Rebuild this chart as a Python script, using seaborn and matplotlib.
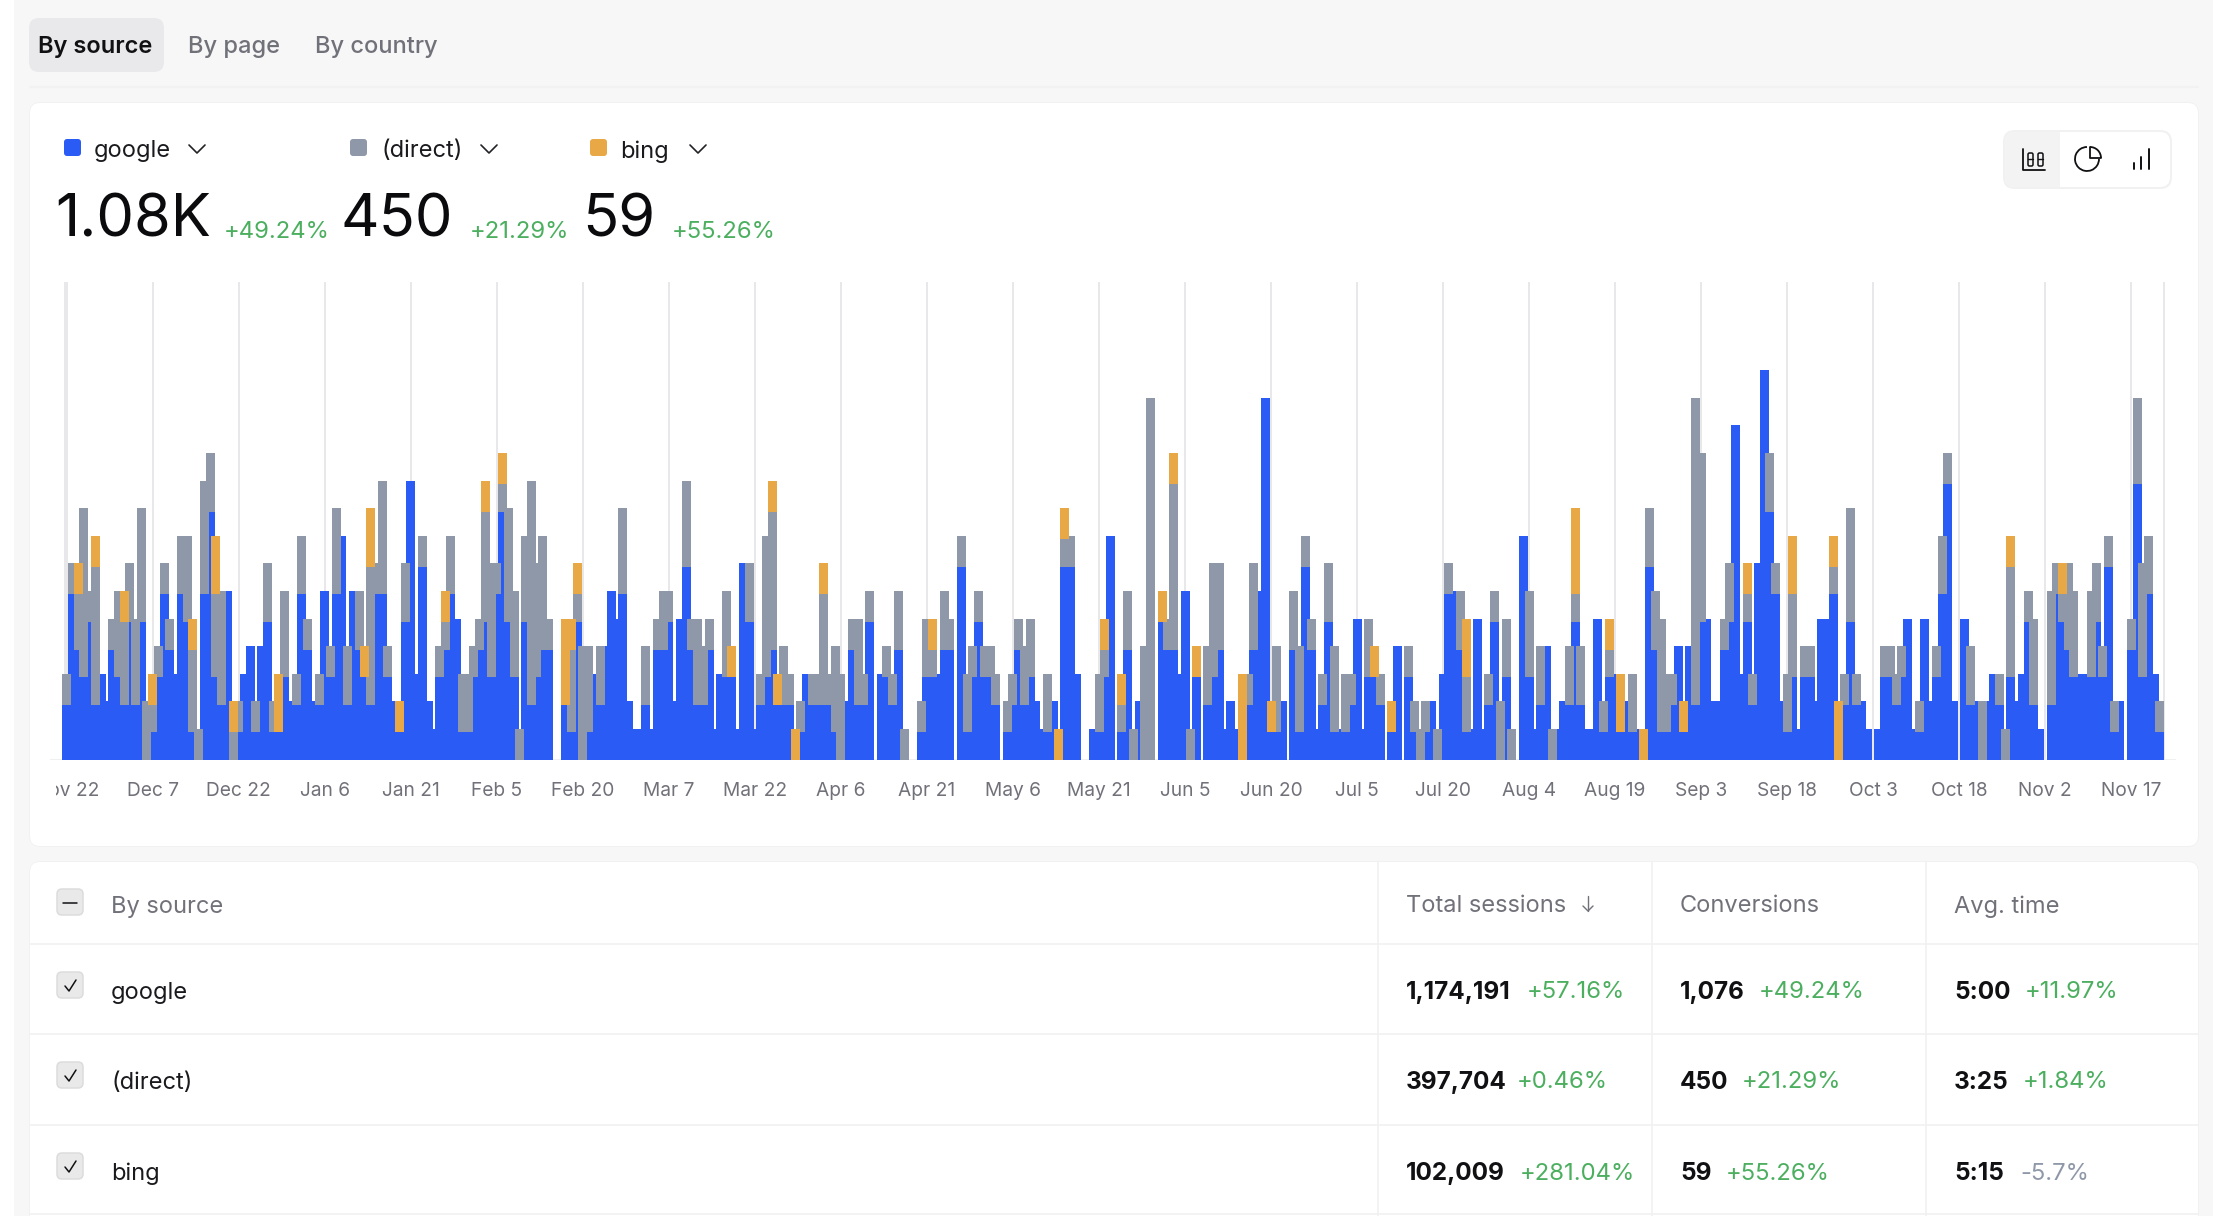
import numpy as np
import pandas as pd
import seaborn as sns
import matplotlib
matplotlib.use("Agg")
import matplotlib.pyplot as plt
from matplotlib.patches import FancyBboxPatch, Rectangle, Arc

google = [2,6,4,3,5,2,3,2,4,3, 2,5,2,5,0,1,3,6,4,3, 6,5,1,0,6,9,3,2,6,0, 1,3,4,1,4,5,1,1,3,2,
          2,6,4,2,2,6,3,6,8,2, 6,4,3,2,6,6,3,2,1,5, 10,3,7,2,1,3,4,6,5,1, 1,3,4,5,3,6,9,5,3,0,
          5,2,3,4,4,0,0,2,1,5, 0,1,3,2,4,6,5,6,2,1, 1,2,1,4,4,5,2,5,7,4, 2,2,4,1,3,3,3,1,7,5,
          1,2,3,4,2,2,2,0,1,3, 2,2,2,2,1,0,2,4,2,2, 5,0,3,3,2,4,0,0,0,1, 3,3,3,4,4,0,7,1,3,5,
          3,3,2,0,1,2,4,2,3,2, 1,1,2,0,7,7,3,0,0,1, 1,3,8,0,1,4,0,2,0,0, 0,5,4,4,3,6,0,3,0,2,
          3,4,1,2,1,0,2,4,6,13, 1,1,2,0,4,1,7,4,1,2, 5,1,1,1,2,5,1,3,3,2, 0,1,4,0,3,1,0,1,2,0,
          3,6,6,4,1,1,5,1,2,5, 0,3,0,0,8,3,1,2,4,0, 1,2,2,5,2,1,1,5,1,3, 3,1,2,1,1,0,7,4,1,1,
          2,4,1,4,2,5,5,2,2,4, 5,12,3,5,2,7,14,9,6,2, 1,3,1,3,3,2,5,5,6,0, 2,5,2,2,1,0,1,3,3,2,
          3,5,1,1,5,2,3,6,10,2, 0,5,2,2,0,2,3,2,0,3, 2,3,5,2,1,0,2,6,5,4, 3,3,3,3,5,3,7,1,2,0,
          4,10,3,6,3,1]
direct = [1,1,2,6,1,5,0,0,1,3, 3,2,3,4,2,1,1,1,1,0, 2,3,3,1,4,2,3,4,0,1, 1,0,0,1,0,2,1,0,3,0,
          1,2,1,0,1,0,1,3,0,2, 0,2,0,5,1,4,1,0,0,2, 0,0,1,0,0,1,1,2,0,2, 2,1,1,4,4,1,1,4,3,1,
          3,8,4,4,1,0,0,0,3,1, 4,3,0,2,0,0,0,3,0,0, 0,2,0,1,2,1,0,0,3,1, 3,2,1,0,0,3,0,0,0,2,
          0,1,5,5,0,2,1,0,1,0, 1,1,4,1,3,3,0,1,3,1, 1,0,0,1,1,2,1,0,0,1, 2,1,0,2,1,0,1,2,1,1,
          1,1,1,0,1,1,1,2,2,0, 0,2,0,0,1,1,0,0,0,0, 2,1,0,0,1,2,1,0,4,13, 0,0,1,6,0,0,1,0,0,2,
          4,3,0,0,0,0,1,3,0,0, 0,3,0,0,2,3,1,1,0,1, 2,3,0,2,1,0,0,2,0,1, 0,0,0,0,1,1,1,1,0,1,
          0,1,0,2,2,0,0,0,1,1, 2,2,1,0,0,3,0,2,0,1, 0,0,2,1,2,0,0,0,1,1, 0,0,0,2,0,0,2,2,4,2,
          1,0,0,0,11,6,0,0,0,1, 2,0,0,1,1,0,0,2,1,0, 2,3,0,1,1,0,0,0,1,0, 1,4,1,0,0,0,0,1,1,1,
          1,0,0,1,0,0,1,2,1,0, 0,0,2,0,2,0,0,1,1,4, 0,0,1,3,0,0,4,1,1,3, 3,0,0,3,2,1,1,1,0,0,
          1,3,4,2,0,1]
bing_days = [2,5,10,15,22,26,29,37,52,53,58,66,73,76,87,88,89,116,123,124,127,132,151,173,174,
             181,184,191,193,197,205,210,228,231,244,263,269,271,275,282,293,301,308,309,339,348]
bing_vals = [1,1,1,1,1,2,1,2,1,2,1,1,1,1,3,1,1,1,1,1,1,1,1,1,1,
             1,1,1,1,1,3,1,1,1,2,3,1,2,1,1,1,2,1,2,1,1]
tick_labels = ["Nov 22","Dec 7","Dec 22","Jan 6","Jan 21","Feb 5","Feb 20","Mar 7","Mar 22","Apr 6",
               "Apr 21","May 6","May 21","Jun 5","Jun 20","Jul 5","Jul 20","Aug 4","Aug 19","Sep 3",
               "Sep 18","Oct 3","Oct 18","Nov 2","Nov 17"]
sources = ["google", "(direct)", "bing"]
headline = ["1.08K", "450", "59"]
headline_delta = ["+49.24%", "+21.29%", "+55.26%"]
tabs = ["By source", "By page", "By country"]
sessions = ["1,174,191", "397,704", "102,009"]
sessions_delta = ["+57.16%", "+0.46%", "+281.04%"]
conversions = ["1,076", "450", "59"]
conversions_delta = ["+49.24%", "+21.29%", "+55.26%"]
avg_time = ["5:00", "3:25", "5:15"]
avg_time_delta = ["+11.97%", "+1.84%", "-5.7%"]

BLUE, GRAY, ORANGE = "#2A5BF5", "#8F98A8", "#E8A845"
GREEN, MUTED, INK, LINE = "#4CAF5F", "#71717A", "#111114", "#F1F1F2"
W, H = 2226, 1216

sns.set_theme(style="white")
plt.rcParams["font.family"] = ["Inter", "DejaVu Sans"]
fig = plt.figure(figsize=(W / 100, H / 100), dpi=100, facecolor="white")
ui = fig.add_axes([0, 0, 1, 1], zorder=1)
ui.set_xlim(0, W); ui.set_ylim(H, 0); ui.axis("off")


def rr(x0, y0, x1, y1, r, fc, ec="none", lw=0, z=1):
    ui.add_patch(FancyBboxPatch((x0, y0), x1 - x0, y1 - y0, boxstyle=f"round,pad=0,rounding_size={r}",
                                fc=fc, ec=ec, lw=lw, zorder=z))


def ln(xs, ys, c=INK, lw=1.1, z=3):
    ui.plot(xs, ys, color=c, lw=lw, zorder=z, solid_capstyle="round", solid_joinstyle="round")


def tx(x, y, s, size=17, c=INK, w="normal", ha="left"):
    ui.text(x, y, s, fontsize=size, color=c, fontweight=w, ha=ha, va="center_baseline", zorder=4)


# page and cards
ui.add_patch(Rectangle((14, 0), 2199, H, fc="#F7F7F7", ec="none", zorder=0))
ln([30, 2198], [87, 87], c="#F2F2F2", lw=1.5, z=1)
rr(29, 102, 2199, 847, 12, "#F1F1F1", z=1)
rr(30, 103, 2198, 846, 10, "white", z=1)
rr(29, 861, 2199, 1230, 12, "#F1F1F1", z=1)
rr(30, 862, 2198, 1230, 10, "white", z=1)

# tabs
rr(29, 18, 164, 72, 10, "#E9E9EB")
for x, s, c, wt in zip([38, 188, 315], tabs, [INK, MUTED, MUTED], ["semibold", "medium", "medium"]):
    tx(x, 45, s, 17, c, wt)

# legend and headline numbers
for sx, lx, cx, nx, dx, name, col, num, delta in zip(
        [64, 350, 590], [94, 381, 620], [197, 489, 698], [55, 341, 582], [224, 470, 672],
        sources, [BLUE, GRAY, ORANGE], headline, headline_delta):
    rr(sx, 139, sx + 17, 156, 3, col)
    tx(lx, 149, name, 17, "#1A1A1E")
    ln([cx - 8, cx, cx + 8], [145, 153, 145], c="#222226", lw=1.2)
    tx(nx, 215, num, 43, "#0B0B0E")
    tx(dx, 230, delta, 17.2, GREEN)

# chart-type switch
rr(2003, 130, 2172, 189, 12, "#F1F1F2")
rr(2005, 132, 2170, 187, 10, "white")
rr(2005, 132, 2060, 187, 10, "#F3F3F4")
ui.add_patch(Rectangle((2045, 132), 15, 55, fc="#F3F3F4", ec="none", zorder=2))
ln([2023, 2023, 2045], [149, 170, 170], lw=1.3)
for bx in (2028, 2038):
    ui.add_patch(FancyBboxPatch((bx, 153), 5, 13, boxstyle="round,pad=0,rounding_size=1.5", fc="none",
                                ec=INK, lw=1.1, zorder=3))
    ln([bx, bx + 5], [159, 159], lw=1.0)
ui.add_patch(Arc((2087, 159), 24, 24, theta1=0, theta2=270, ec=INK, lw=1.3, zorder=3))
ln([2090, 2090, 2101], [147, 158, 158], lw=1.3)
ui.add_patch(Arc((2090, 158), 22, 22, theta1=270, theta2=360, ec=INK, lw=1.3, zorder=3))
ln([2134, 2134], [163, 169], lw=1.4)
ln([2141, 2141], [157, 169], lw=1.4)
ln([2149, 2149], [149, 169], lw=1.4)

# table
for y in (944, 1034, 1125, 1214):
    ln([30, 2198], [y, y], c=LINE, lw=1.2, z=2)
for x in (1378, 1652, 1926):
    ln([x, x], [862, 1216], c=LINE, lw=1.2, z=2)
tx(111, 904, "By source", 17, MUTED)
for x, s in zip([1406, 1680, 1954], ["Total sessions", "Conversions", "Avg. time"]):
    tx(x, 904, s, 17, MUTED)
ln([1588, 1588], [896, 911], c=MUTED, lw=1.0)
ln([1583, 1588, 1593], [906, 911, 906], c=MUTED, lw=1.0)

rows_y = [990, 1080, 1171]
box_y = [972, 1062, 1153]
for by in [889] + box_y:
    rr(57, by, 83, by + 26, 5, "#E9E9EA", ec="#DCDCDE", lw=1.1)
ln([63, 77], [902.5, 902.5], lw=1.1)
for by in box_y:
    ln([65, 69, 76], [by + 14, by + 19, by + 8], lw=1.1)
delta_x = [[1527, 1517, 1520], [1759, 1742, 1726], [2025, 2023, 2020]]
for j, ry in enumerate(rows_y):
    tx(111, ry, sources[j], 17, "#1A1A1E")
    for x, dxs, vals, deltas in zip([1406, 1680, 1954], delta_x,
                                    [sessions, conversions, avg_time],
                                    [sessions_delta, conversions_delta, avg_time_delta]):
        tx(x, ry, vals[j], 17.5, INK, "bold")
        tx(dxs[j], ry, deltas[j], 17.2, GRAY if deltas[j].startswith("-") else GREEN)

# chart
bing = np.zeros(len(google), dtype=int)
bing[bing_days] = bing_vals
df = pd.DataFrame({"day": np.arange(len(google)), "google": google, "direct": direct, "bing": bing})

PX_DAY, PX_UNIT, X0, BASE, TOP, LEFT, RIGHT = 5.735, 27.6, 66.7, 760, 282, 50, 2176
ax = fig.add_axes([LEFT / W, 1 - BASE / H, (RIGHT - LEFT) / W, (BASE - TOP) / H], zorder=2)
ax.patch.set_alpha(0)
CAP = 0.12  # bars stand slightly proud of the stacked value
width = 9 / PX_DAY
bottoms = [np.zeros(len(df)), df["google"].values, (df["google"] + df["direct"]).values]
for name, col, bot, z in zip(["google", "direct", "bing"], [BLUE, GRAY, ORANGE], bottoms, [3, 4, 5]):
    vals = df[name].values + CAP * (df[name].values > 0)
    sns.barplot(x=df["day"], y=vals, native_scale=True, width=width, color=col, saturation=1,
                errorbar=None, linewidth=0, bottom=bot, ax=ax, zorder=z)
ax.set_xlim((LEFT - X0) / PX_DAY, (RIGHT - X0) / PX_DAY)
ax.set_ylim(0, (BASE - TOP) / PX_UNIT)
ticks = np.arange(len(tick_labels)) * 15
ax.set_xticks(ticks)
ax.set_xticklabels(tick_labels, fontsize=13.8, color=MUTED)
ax.set_yticks([])
ax.set_xlabel(""); ax.set_ylabel("")
ax.tick_params(axis="x", length=0, pad=16)
sns.despine(ax=ax, left=True, bottom=True, top=True, right=True)
ax.grid(axis="x", color="#E4E4E6", lw=1.2, zorder=1)
ax.set_axisbelow(True)
ax.axvline(-0.3, color="#E4E4E6", lw=1.2, zorder=1)
ax.axvline(365.75, color="#E4E4E6", lw=1.2, zorder=1)
ax.axhline(0, color="#EDEDEE", lw=1.2, zorder=1)
clip = Rectangle((56, 760), 2120, 60, transform=ui.transData)
for lab in ax.get_xticklabels():
    lab.set_clip_path(clip)
    lab.set_clip_on(True)

fig.savefig("out.png", dpi=100, facecolor="white")
